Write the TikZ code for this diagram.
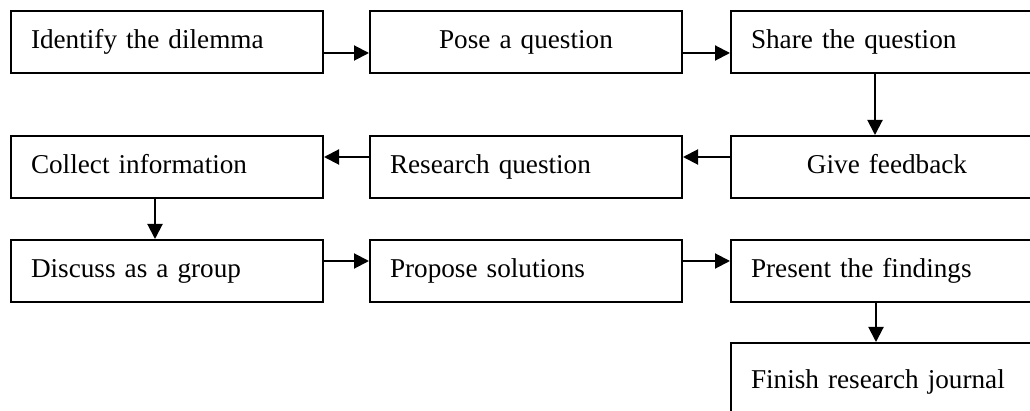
\documentclass[tikz,border=0pt]{standalone}
\usepackage{fontspec}
\setmainfont{Liberation Serif}
\usetikzlibrary{arrows.meta}

\tikzset{
  stepbox/.style={draw, line width=2pt, rectangle, anchor=north west,
    minimum width=312pt, minimum height=62pt, text width=272pt,
    inner xsep=20pt, align=left, text height=20pt, text depth=6pt,
    font=\fontsize{27.2}{32}\selectfont},
  arr/.style={line width=2pt, -{Triangle[length=15pt,width=15pt]}}
}

\begin{document}
\begin{tikzpicture}[x=1pt,y=-1pt]
  \useasboundingbox (0,0) rectangle (1030,411);
  \clip (0,0) rectangle (1030,411);

  \node[stepbox] (identify) at (10,10) {Identify the dilemma};
  \node[stepbox, align=center] (pose) at (369,10) {Pose a question};
  \node[stepbox] (share) at (730,10) {Share the question};

  \node[stepbox] (collect) at (10,135) {Collect information};
  \node[stepbox] (research) at (369,135) {Research question};
  \node[stepbox, align=center] (feedback) at (730,135) {Give feedback};

  \node[stepbox] (discuss) at (10,239) {Discuss as a group};
  \node[stepbox] (propose) at (369,239) {Propose solutions};
  \node[stepbox] (present) at (730,239) {Present the findings};

  \node[stepbox, minimum height=80pt, text depth=10pt] (finish) at (730,342) {Finish research journal};

  \draw[arr] ([yshift=-11pt]identify.east) -- ([yshift=-11pt]pose.west);
  \draw[arr] ([yshift=-11pt]pose.east) -- ([yshift=-11pt]share.west);
  \draw[arr] ([xshift=-12pt]share.south) -- ([xshift=-12pt]feedback.north);

  \draw[arr] ([yshift=10pt]feedback.west) -- ([yshift=10pt]research.east);
  \draw[arr] ([yshift=10pt]research.west) -- ([yshift=10pt]collect.east);
  \draw[arr] ([xshift=-12pt]collect.south) -- ([xshift=-12pt]discuss.north);

  \draw[arr] ([yshift=10pt]discuss.east) -- ([yshift=10pt]propose.west);
  \draw[arr] ([yshift=10pt]propose.east) -- ([yshift=10pt]present.west);
  \draw[arr] ([xshift=-11pt]present.south) -- ([xshift=-11pt]finish.north);

\end{tikzpicture}
\end{document}
